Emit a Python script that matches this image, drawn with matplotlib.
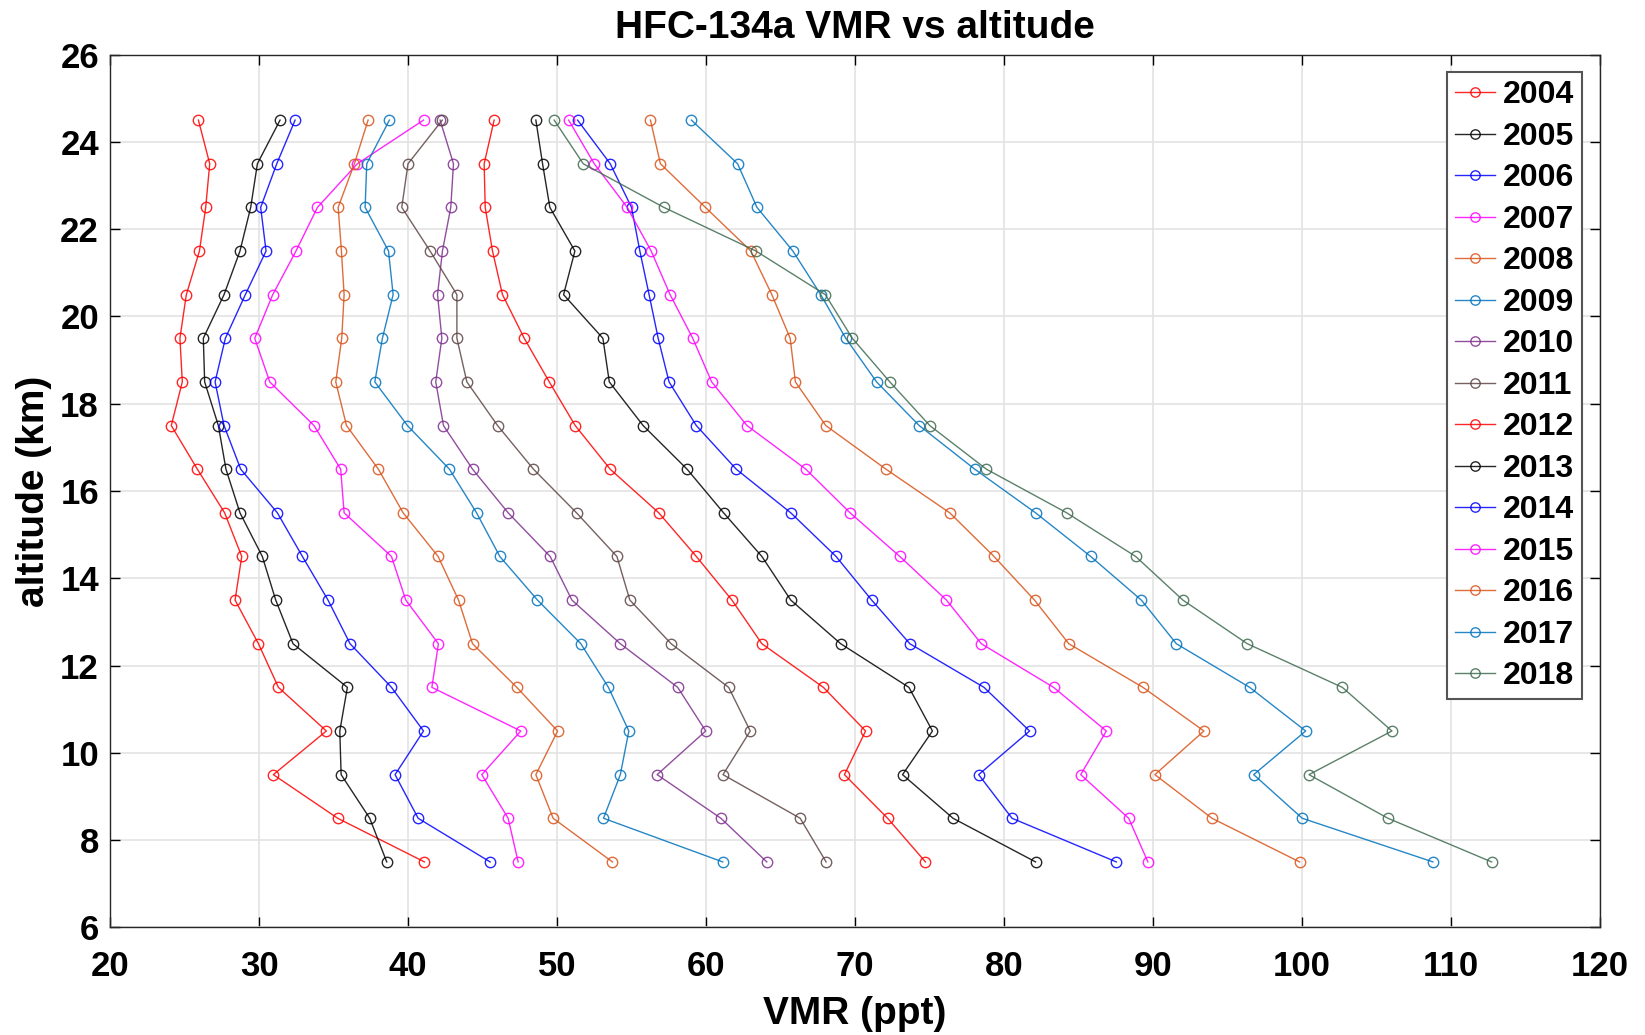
import matplotlib
matplotlib.use("Agg")
import matplotlib.pyplot as plt

plt.rcParams['font.family'] = ['Liberation Sans', 'DejaVu Sans']
plt.rcParams['font.weight'] = 'bold'

altitude = [7.5, 8.5, 9.5, 10.5, 11.5, 12.5, 13.5, 14.5, 15.5, 16.5,
            17.5, 18.5, 19.5, 20.5, 21.5, 22.5, 23.5, 24.5]

years = ['2004', '2005', '2006', '2007', '2008', '2009', '2010', '2011',
         '2012', '2013', '2014', '2015', '2016', '2017', '2018']

# VMR values from 7.5 km up to 24.5 km
vmr_2004 = [41.10, 35.28, 30.96, 34.52, 31.30, 29.96, 28.39, 28.84, 27.69, 25.86,
            24.11, 24.85, 24.69, 25.12, 26.00, 26.42, 26.69, 25.93]
vmr_2005 = [38.57, 37.43, 35.51, 35.42, 35.93, 32.28, 31.12, 30.22, 28.72, 27.78,
            27.27, 26.35, 26.26, 27.65, 28.72, 29.44, 29.89, 31.41]
vmr_2006 = [45.51, 40.68, 39.13, 41.04, 38.89, 36.11, 34.63, 32.91, 31.23, 28.77,
            27.65, 27.05, 27.74, 29.08, 30.47, 30.11, 31.19, 32.42]
vmr_2007 = [47.39, 46.72, 44.95, 47.57, 41.60, 42.04, 39.85, 38.89, 35.71, 35.48,
            33.69, 30.72, 29.71, 30.92, 32.48, 33.92, 36.60, 41.04]
vmr_2008 = [53.72, 49.74, 48.58, 50.04, 47.30, 44.33, 43.39, 42.02, 39.67, 38.01,
            35.87, 35.15, 35.55, 35.71, 35.53, 35.31, 36.40, 37.32]
vmr_2009 = [61.12, 53.12, 54.25, 54.82, 53.45, 51.60, 48.69, 46.16, 44.60, 42.78,
            39.96, 37.77, 38.28, 39.00, 38.69, 37.12, 37.23, 38.75]
vmr_2010 = [64.08, 61.00, 56.72, 59.98, 58.10, 54.25, 51.00, 49.54, 46.72, 44.33,
            42.38, 41.86, 42.27, 41.98, 42.31, 42.87, 43.05, 42.15]
vmr_2011 = [68.06, 66.32, 61.14, 62.97, 61.52, 57.66, 54.89, 54.02, 51.31, 48.42,
            46.01, 43.95, 43.28, 43.28, 41.48, 39.58, 40.00, 42.30]
vmr_2012 = [74.73, 72.19, 69.29, 70.71, 67.88, 63.75, 61.74, 59.35, 56.83, 53.57,
            51.22, 49.48, 47.80, 46.34, 45.67, 45.18, 45.11, 45.78]
vmr_2013 = [82.12, 76.58, 73.19, 75.20, 73.62, 69.04, 65.69, 63.75, 61.18, 58.73,
            55.78, 53.51, 53.08, 50.44, 51.20, 49.52, 49.03, 48.58]
vmr_2014 = [87.54, 80.54, 78.30, 81.72, 78.66, 73.68, 71.12, 68.73, 65.69, 62.03,
            59.35, 57.52, 56.79, 56.18, 55.56, 55.00, 53.57, 51.38]
vmr_2015 = [89.66, 88.37, 85.15, 86.87, 83.33, 78.48, 76.14, 73.01, 69.67, 66.70,
            62.75, 60.38, 59.11, 57.59, 56.32, 54.71, 52.50, 50.78]
vmr_2016 = [99.84, 93.96, 90.13, 93.42, 89.33, 84.35, 82.05, 79.33, 76.36, 72.08,
            68.04, 66.00, 65.65, 64.42, 63.01, 59.96, 56.94, 56.27]
vmr_2017 = [108.79, 100.02, 96.76, 100.25, 96.49, 91.57, 89.22, 85.82, 82.12, 78.04,
            74.31, 71.45, 69.38, 67.70, 65.83, 63.42, 62.12, 59.02]
vmr_2018 = [112.73, 105.77, 100.47, 106.04, 102.71, 96.33, 92.01, 88.84, 84.21, 78.82,
            75.02, 72.34, 69.82, 68.01, 63.35, 57.17, 51.76, 49.81]

series = [vmr_2004, vmr_2005, vmr_2006, vmr_2007, vmr_2008, vmr_2009, vmr_2010,
          vmr_2011, vmr_2012, vmr_2013, vmr_2014, vmr_2015, vmr_2016, vmr_2017,
          vmr_2018]

colors = ['#FF0000', '#000000', '#0000FF', '#FF00FF', '#D95319', '#0072BD',
          '#7E2F8E', '#5E4545', '#FF0000', '#000000', '#0000FF', '#FF00FF',
          '#D95319', '#0072BD', '#3F6B50']

fig = plt.figure(figsize=(16.45, 10.35), dpi=100)
ax = fig.add_axes([0.0669, 0.104, 0.9057, 0.8432])

for y, vals, c in zip(years, series, colors):
    ax.plot(vals, altitude, '-o', color=c, lw=1.0, ms=7.5, mfc='none',
            mew=1.0, alpha=0.85, label=y)

ax.set_xlim(20, 120)
ax.set_ylim(6, 26)
ax.set_xticks(range(20, 121, 10))
ax.set_yticks(range(6, 27, 2))
ax.grid(True, color='#e3e3e3', lw=1.2)
ax.set_axisbelow(True)
ax.tick_params(direction='in', length=7, width=1, labelsize=25, top=True, right=True)
ax.tick_params(axis='x', pad=16)
ax.tick_params(axis='y', pad=8)
for lab in ax.get_xticklabels() + ax.get_yticklabels():
    lab.set_fontweight('bold')
for s in ax.spines.values():
    s.set_linewidth(1.0)
    s.set_color('#262626')

ax.set_xlabel('VMR (ppt)', fontsize=28, fontweight='bold', labelpad=10)
ax.set_ylabel('altitude (km)', fontsize=28, fontweight='bold', labelpad=6)
ax.set_title('HFC-134a VMR vs altitude', fontsize=28, fontweight='bold', pad=12)

leg = ax.legend(loc='upper right', fontsize=23, frameon=True, fancybox=False,
                handlelength=1.25, handletextpad=0.25, labelspacing=0.36,
                borderpad=0.25, borderaxespad=0.55, markerscale=0.9)
leg.get_frame().set_edgecolor('#555555')
leg.get_frame().set_linewidth(1.5)
leg.get_frame().set_alpha(1.0)
for t in leg.get_texts():
    t.set_fontweight('bold')

fig.savefig('out.png', dpi=100)
